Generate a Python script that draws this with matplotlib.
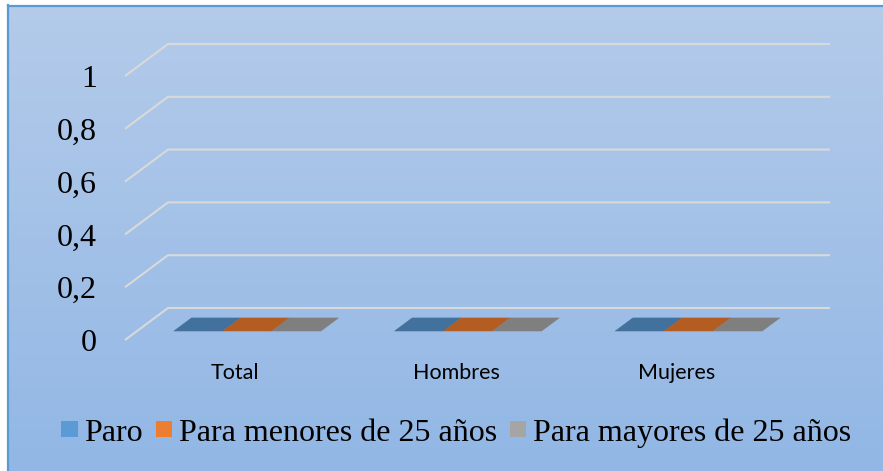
import numpy as np
import matplotlib
matplotlib.use("Agg")
import matplotlib.pyplot as plt
from matplotlib.patches import Polygon, Patch
from matplotlib.lines import Line2D

# ---------------- data ----------------
categories = ["Total", "Hombres", "Mujeres"]
series_names = ["Paro", "Para menores de 25 años", "Para mayores de 25 años"]
paro = [0, 0, 0]
menores_25 = [0, 0, 0]
mayores_25 = [0, 0, 0]
y_ticks = [0, 0.2, 0.4, 0.6, 0.8, 1]
y_tick_labels = ["0", "0,2", "0,4", "0,6", "0,8", "1"]

series_values = [paro, menores_25, mayores_25]
legend_colors = ["#5B9BD5", "#ED7D31", "#A5A5A5"]
front_colors = ["#5B9BD5", "#ED7D31", "#A5A5A5"]
top_colors = ["#41719C", "#B45D22", "#7F7F7F"]
side_colors = ["#4A82B8", "#C9692A", "#8C8C8C"]

# ---------------- figure ----------------
W, H = 883, 471
fig = plt.figure(figsize=(W / 100, H / 100), dpi=100)
fig.patch.set_facecolor("white")

# gradient background (chart area starts at x=8, y=5 px)
bg = fig.add_axes([8 / W, 0, 1 - 8 / W, 1 - 5 / H], zorder=0)
top_c = np.array([180, 203, 234]) / 255
bot_c = np.array([146, 183, 229]) / 255
t = np.linspace(0, 1, 256)[:, None, None]
grad = top_c[None, None, :] * (1 - t) + bot_c[None, None, :] * t
bg.imshow(grad, aspect="auto", extent=[0, 1, 0, 1], interpolation="bilinear")
bg.set_axis_off()

# border lines (left and top)
fig.add_artist(Line2D([8 / W, 8 / W], [0, 1 - 5 / H], color="#5B9BD5", lw=1.6,
                      transform=fig.transFigure))
fig.add_artist(Line2D([8 / W, 1], [1 - 5.5 / H, 1 - 5.5 / H], color="#5B9BD5", lw=1.6,
                      transform=fig.transFigure))

# front plane axes
x_left, x_right = 125, 787
y_bottom, y_top = 340, 76
ax = fig.add_axes([x_left / W, 1 - y_bottom / H, (x_right - x_left) / W,
                   (y_bottom - y_top) / H], zorder=2)
ax.set_xlim(0, len(categories))
ax.set_ylim(0, 1)
ax.patch.set_visible(False)
for s in ax.spines.values():
    s.set_visible(False)

# oblique depth offsets (in data units)
px_per_x = (x_right - x_left) / len(categories)
px_per_y = (y_bottom - y_top) / 1.0
kx = 43 / px_per_x
ky = 32 / px_per_y


def proj(x, y, d):
    return (x + d * kx, y + d * ky)


# gridlines
for v in y_ticks:
    pts = [proj(0, v, 0), proj(0, v, 1), proj(len(categories), v, 1)]
    ax.plot([p[0] for p in pts], [p[1] for p in pts], color="#D9D9D9",
            lw=1.5, solid_capstyle="butt", clip_on=False, zorder=1)

# bars
gap = 0.5
group_w = 1 / (1 + gap)
bar_w = group_w / len(series_values)
d0, d1 = 0.28, 0.69
for j, vals in enumerate(series_values):
    for i, v in enumerate(vals):
        x0 = i + 0.5 - group_w / 2 + j * bar_w
        x1 = x0 + bar_w
        front = [proj(x0, 0, d0), proj(x1, 0, d0), proj(x1, v, d0), proj(x0, v, d0)]
        side = [proj(x1, 0, d0), proj(x1, 0, d1), proj(x1, v, d1), proj(x1, v, d0)]
        top = [proj(x0, v, d0), proj(x1, v, d0), proj(x1, v, d1), proj(x0, v, d1)]
        ax.add_patch(Polygon(side, closed=True, facecolor=side_colors[j],
                             edgecolor="none", clip_on=False, zorder=3))
        ax.add_patch(Polygon(front, closed=True, facecolor=front_colors[j],
                             edgecolor="none", clip_on=False, zorder=3))
        ax.add_patch(Polygon(top, closed=True, facecolor=top_colors[j],
                             edgecolor=top_colors[j], lw=0.3, clip_on=False, zorder=4))

# ticks
ax.set_yticks(y_ticks)
ax.set_yticklabels(y_tick_labels, fontfamily="Liberation Serif", fontsize=23)
ax.set_xticks([i + 0.5 for i in range(len(categories))])
ax.set_xticklabels(categories, fontfamily="Lato", fontsize=15.5)
ax.tick_params(axis="y", length=0, pad=20)
ax.tick_params(axis="x", length=0, pad=16.5)

# legend
handles = [Patch(facecolor=c, edgecolor="none") for c in legend_colors]
fig.legend(handles, series_names, ncol=3, loc="center",
           bbox_to_anchor=(456 / W, 1 - 433 / H), frameon=False,
           prop={"family": "Liberation Serif", "size": 23},
           handlelength=0.52, handleheight=0.4, handletextpad=0.2,
           columnspacing=0.4, borderpad=0, borderaxespad=0)

fig.savefig("out.png", dpi=100)
